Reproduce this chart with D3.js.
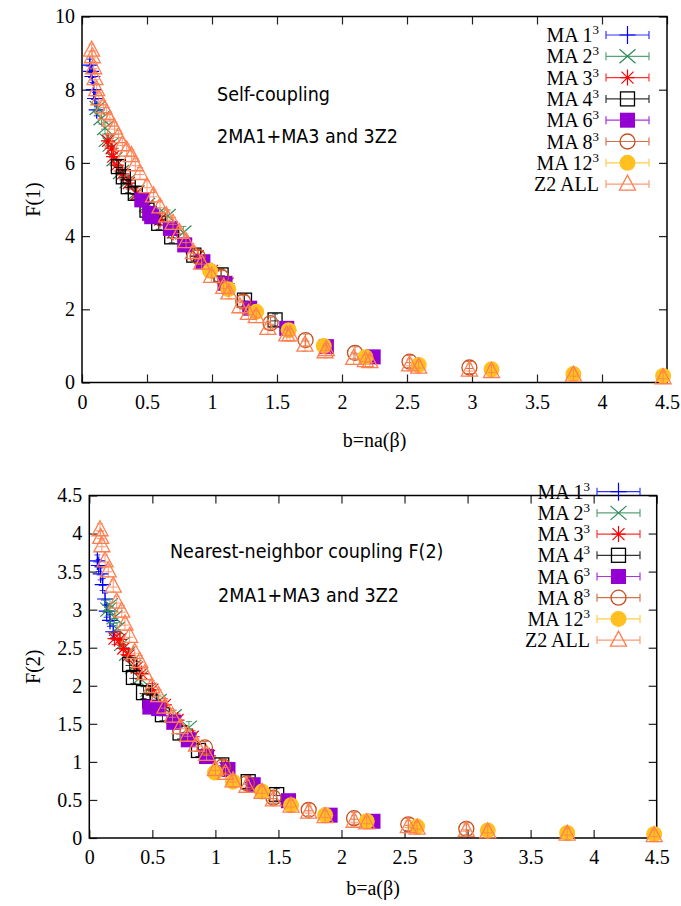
<!DOCTYPE html>
<html>
<head>
<meta charset="utf-8">
<script src="https://cdn.jsdelivr.net/npm/d3@7/dist/d3.min.js"></script>
<style>
  body { margin: 0; background: #fff; }
  svg { display: block; }
  .tick line { stroke: #222; stroke-width: 1.2; }
  .domain { display: none; }
</style>
</head>
<body>
<svg id="chart" width="681" height="906"></svg>
<script>
// series info
const seriesNames = ["MA 1", "MA 2", "MA 3", "MA 4", "MA 6", "MA 8", "MA 12", "Z2 ALL"];
const seriesSup = ["3", "3", "3", "3", "3", "3", "3", ""];
const seriesColors = ["#0000ff", "#2e8b57", "#ff0000", "#000000", "#9400d3", "#c8501e", "#ffc020", "#ff7f50"];
const seriesSymbols = ["plus", "cross", "star", "square", "squareFilled", "circle", "circleFilled", "triangle"];

// tick labels
const xTicks = [0, 0.5, 1, 1.5, 2, 2.5, 3, 3.5, 4, 4.5];
const yTicksTop = [0, 2, 4, 6, 8, 10];
const yTicksBottom = [0, 0.5, 1, 1.5, 2, 2.5, 3, 3.5, 4, 4.5];

// top panel data: [b, F(1)]
const ma1Top = [[0.06, 8.67], [0.07, 8.5], [0.08, 8.36], [0.09, 8.0], [0.10, 7.76], [0.113, 7.45]];
const ma2Top = [[0.12, 7.5], [0.15, 7.22], [0.177, 6.95], [0.19, 6.63], [0.22, 6.5], [0.25, 6.1], [0.3, 5.75],
  [0.35, 5.5], [0.42, 5.2], [0.5, 4.85], [0.58, 4.6], [0.66, 4.55], [0.78, 4.1]];
const ma3Top = [[0.2, 6.6], [0.228, 6.4], [0.24, 6.17], [0.267, 5.94], [0.31, 5.7], [0.36, 5.45], [0.42, 5.15],
  [0.5, 4.8], [0.6, 4.45], [0.7, 4.1], [0.8, 3.75], [0.89, 3.45], [1.0, 3.05], [1.12, 2.7]];
const ma4Top = [[0.28, 5.9], [0.318, 5.62], [0.356, 5.35], [0.41, 5.17], [0.5, 4.71], [0.59, 4.35], [0.69, 3.98],
  [0.86, 3.48], [1.07, 2.94], [1.25, 2.25], [1.485, 1.71]];
const ma6Top = [[0.46, 4.99], [0.52, 4.62], [0.536, 4.53], [0.68, 4.21], [0.79, 3.76], [0.93, 3.3], [1.1, 2.71],
  [1.29, 2.03], [1.575, 1.48], [1.88, 0.98], [2.24, 0.7]];
const ma8Top = [[0.89, 3.44], [1.07, 2.89], [1.24, 2.21], [1.45, 1.62], [1.72, 1.16], [2.1, 0.81], [2.52, 0.57], [2.98, 0.41]];
const ma12Top = [[0.985, 3.05], [1.125, 2.55], [1.34, 1.93], [1.59, 1.43], [1.86, 1.0], [2.18, 0.69], [2.59, 0.48],
  [3.15, 0.36], [3.78, 0.23], [4.47, 0.18]];
const z2Top = [[0.074, 9.08], [0.08, 8.9], [0.09, 8.6], [0.1, 8.3], [0.113, 8.0], [0.13, 7.75], [0.164, 7.54],
  [0.19, 7.35], [0.215, 7.17], [0.25, 6.95], [0.28, 6.72], [0.31, 6.5], [0.344, 6.35], [0.38, 6.2], [0.41, 5.95],
  [0.446, 5.71], [0.5, 5.35], [0.55, 5.1], [0.6, 4.8], [0.65, 4.55], [0.7, 4.35], [0.75, 4.1], [0.8, 3.85],
  [0.856, 3.55], [0.92, 3.26], [0.997, 2.9], [1.09, 2.6], [1.13, 2.45], [1.215, 2.07], [1.28, 1.89], [1.34, 1.8],
  [1.43, 1.48], [1.575, 1.3], [1.6, 1.3], [1.715, 1.02], [1.87, 0.84], [1.88, 0.9], [2.09, 0.66], [2.18, 0.6],
  [2.215, 0.57], [2.52, 0.48], [2.59, 0.42], [2.98, 0.34], [3.15, 0.3], [3.78, 0.2], [4.47, 0.13]];

// bottom panel data: [b, F(2)]
const ma1Bottom = [[0.064, 3.64], [0.075, 3.58], [0.09, 3.47], [0.106, 3.33], [0.125, 3.14], [0.138, 2.98],
  [0.164, 2.86], [0.19, 2.71]];
const ma2Bottom = [[0.15, 3.0], [0.164, 3.06], [0.2, 2.9], [0.22, 2.75], [0.26, 2.55], [0.3, 2.42], [0.35, 2.25],
  [0.4, 2.1], [0.47, 1.95], [0.55, 1.8], [0.67, 1.6], [0.79, 1.45]];
const ma3Bottom = [[0.2, 2.62], [0.243, 2.61], [0.27, 2.49], [0.31, 2.4], [0.376, 2.24], [0.415, 2.16], [0.5, 1.95],
  [0.6, 1.75], [0.7, 1.55], [0.82, 1.33], [0.95, 1.08], [1.08, 0.92]];
const ma4Bottom = [[0.32, 2.28], [0.35, 2.11], [0.43, 1.91], [0.48, 1.8], [0.58, 1.62], [0.72, 1.38], [0.866, 1.15],
  [1.05, 0.96], [1.26, 0.74], [1.486, 0.57]];
const ma6Bottom = [[0.48, 1.72], [0.55, 1.7], [0.67, 1.52], [0.785, 1.29], [0.93, 1.07], [1.1, 0.9], [1.3, 0.7],
  [1.58, 0.49], [1.91, 0.3], [2.25, 0.22]];
const ma8Bottom = [[0.917, 1.19], [1.06, 0.94], [1.25, 0.72], [1.46, 0.53], [1.74, 0.37], [2.1, 0.26], [2.53, 0.18], [2.99, 0.12]];
const ma12Bottom = [[0.997, 0.86], [1.14, 0.74], [1.37, 0.61], [1.6, 0.43], [1.87, 0.3], [2.2, 0.22], [2.6, 0.15],
  [3.16, 0.1], [3.79, 0.066], [4.48, 0.05]];
const z2Bottom = [[0.085, 4.05], [0.09, 3.95], [0.1, 3.84], [0.125, 3.64], [0.15, 3.51], [0.19, 3.31], [0.217, 3.1],
  [0.257, 2.98], [0.283, 2.81], [0.32, 2.65], [0.36, 2.44], [0.4, 2.32], [0.44, 2.16], [0.495, 1.99], [0.55, 1.87],
  [0.6, 1.72], [0.66, 1.6], [0.72, 1.45], [0.78, 1.35], [0.85, 1.22], [0.93, 1.1], [1.0, 0.9], [1.08, 0.85],
  [1.14, 0.75], [1.25, 0.68], [1.37, 0.6], [1.46, 0.5], [1.6, 0.42], [1.74, 0.34], [1.87, 0.28], [2.1, 0.22],
  [2.2, 0.2], [2.53, 0.15], [2.6, 0.13], [2.99, 0.1], [3.16, 0.08], [3.79, 0.05], [4.48, 0.03]];

const SERIF = '"Liberation Serif", "DejaVu Serif", serif';
const SANS = '"DejaVu Sans Condensed", "DejaVu Sans", sans-serif';

const svg = d3.select("#chart");

// draw one symbol centred on (cx, cy)
function drawMarker(g, sym, color, cx, cy) {
  const m = g.append("g").attr("transform", `translate(${cx},${cy})`);
  const line = d => m.append("path").attr("d", d).attr("fill", "none").attr("stroke", color).attr("stroke-width", 1.2);
  if (sym === "plus") line("M-8,0H8M0,-9V9");
  else if (sym === "cross") line("M-8,-7L8,7M-8,7L8,-7");
  else if (sym === "star") line("M-7,0H7M0,-8V8M-6,-6L6,6M-6,6L6,-6");
  else if (sym === "square") m.append("rect").attr("x", -7).attr("y", -7).attr("width", 14).attr("height", 14)
    .attr("fill", "none").attr("stroke", color).attr("stroke-width", 1.3);
  else if (sym === "squareFilled") m.append("rect").attr("x", -7.5).attr("y", -7.5).attr("width", 15).attr("height", 15)
    .attr("fill", color);
  else if (sym === "circle") m.append("circle").attr("r", 7.5).attr("fill", "none").attr("stroke", color).attr("stroke-width", 1.3);
  else if (sym === "circleFilled") m.append("circle").attr("r", 8).attr("fill", color);
  else if (sym === "triangle") m.append("path").attr("d", "M0,-9L8,6H-8Z")
    .attr("fill", "none").attr("stroke", color).attr("stroke-width", 1.3);
}

// small error cross drawn under every point
function drawErr(g, color, cx, cy) {
  g.append("path")
    .attr("d", `M${cx},${cy - 6}V${cy + 6}M${cx - 3},${cy - 6}H${cx + 3}M${cx - 3},${cy + 6}H${cx + 3}M${cx - 4},${cy + 1}H${cx + 4}`)
    .attr("fill", "none").attr("stroke", color).attr("stroke-width", 1).attr("opacity", 0.8);
}

function styleTicks(sel) {
  sel.selectAll("text").style("font-family", SERIF).style("font-size", "20px").attr("fill", "#000");
}

function drawPanel(p) {
  const x = d3.scaleLinear().domain([0, 4.5]).range([p.left, p.right]);
  const y = d3.scaleLinear().domain([0, p.yMax]).range([p.bottom, p.top]);
  const g = svg.append("g");

  // axes, ticks pointing inward on all four sides
  g.append("g").attr("transform", `translate(0,${p.bottom})`)
    .call(d3.axisBottom(x).tickValues(xTicks).tickSizeInner(-8).tickSizeOuter(0).tickPadding(12).tickFormat(d3.format("")))
    .call(styleTicks);
  g.append("g").attr("transform", `translate(0,${p.top})`)
    .call(d3.axisTop(x).tickValues(xTicks).tickSizeInner(-8).tickSizeOuter(0).tickFormat(""));
  g.append("g").attr("transform", `translate(${p.left},0)`)
    .call(d3.axisLeft(y).tickValues(p.yTicks).tickSizeInner(-8).tickSizeOuter(0).tickPadding(7).tickFormat(d3.format("")))
    .call(styleTicks);
  g.append("g").attr("transform", `translate(${p.right},0)`)
    .call(d3.axisRight(y).tickValues(p.yTicks).tickSizeInner(-8).tickSizeOuter(0).tickFormat(""));

  g.append("rect").attr("x", p.left).attr("y", p.top)
    .attr("width", p.right - p.left).attr("height", p.bottom - p.top)
    .attr("fill", "none").attr("stroke", "#000").attr("stroke-width", 1.5);

  // axis titles
  g.append("text").attr("transform", `translate(${p.yLabelX},${(p.top + p.bottom) / 2}) rotate(-90)`)
    .attr("text-anchor", "middle").attr("dy", "0.35em")
    .style("font-family", SERIF).style("font-size", "20px").text(p.yLabel);
  g.append("text").attr("x", (p.left + p.right) / 2).attr("y", p.xLabelY)
    .attr("text-anchor", "middle")
    .style("font-family", SERIF).style("font-size", "20px").text(p.xLabel);

  // annotations
  p.notes.forEach(n => {
    g.append("text").attr("x", n.x).attr("y", n.y)
      .style("font-family", SANS).style("font-size", "19.5px").text(n.text);
  });

  // data points
  p.series.forEach((data, i) => {
    const sg = g.append("g");
    data.forEach(d => {
      drawErr(sg, seriesColors[i], x(d[0]), y(d[1]));
      drawMarker(sg, seriesSymbols[i], seriesColors[i], x(d[0]), y(d[1]));
    });
  });

  // legend
  seriesNames.forEach((name, i) => {
    const ly = p.legY + i * p.legStep;
    const t = g.append("text").attr("x", p.legTextX).attr("y", ly + 7).attr("text-anchor", "end")
      .style("font-family", SERIF).style("font-size", "20px");
    t.append("tspan").text(name);
    if (seriesSup[i]) t.append("tspan").attr("dy", -8).style("font-size", "13px").text(seriesSup[i]);
    const c = seriesColors[i];
    g.append("path")
      .attr("d", `M${p.legX1},${ly}H${p.legX2}M${p.legX1},${ly - 4}V${ly + 4}M${p.legX2},${ly - 4}V${ly + 4}`)
      .attr("fill", "none").attr("stroke", c).attr("stroke-width", 1.2).attr("opacity", 0.8);
    drawMarker(g, seriesSymbols[i], c, (p.legX1 + p.legX2) / 2, ly);
  });
}

drawPanel({
  left: 82, right: 667, top: 16.5, bottom: 382.5, yMax: 10, yTicks: yTicksTop,
  yLabel: "F(1)", yLabelX: 33, xLabel: "b=na(β)", xLabelY: 447,
  notes: [{ x: 217, y: 101, text: "Self-coupling" }, { x: 217, y: 143, text: "2MA1+MA3 and 3Z2" }],
  series: [ma1Top, ma2Top, ma3Top, ma4Top, ma6Top, ma8Top, ma12Top, z2Top],
  legY: 35, legStep: 21.3, legTextX: 599, legX1: 606, legX2: 649
});

drawPanel({
  left: 89.3, right: 656.7, top: 495.5, bottom: 838, yMax: 4.5, yTicks: yTicksBottom,
  yLabel: "F(2)", yLabelX: 33, xLabel: "b=a(β)", xLabelY: 895,
  notes: [{ x: 170, y: 558, text: "Nearest-neighbor coupling F(2)" }, { x: 218, y: 602, text: "2MA1+MA3 and 3Z2" }],
  series: [ma1Bottom, ma2Bottom, ma3Bottom, ma4Bottom, ma6Bottom, ma8Bottom, ma12Bottom, z2Bottom],
  legY: 491.7, legStep: 21.2, legTextX: 590, legX1: 597, legX2: 640
});
</script>
</body>
</html>
